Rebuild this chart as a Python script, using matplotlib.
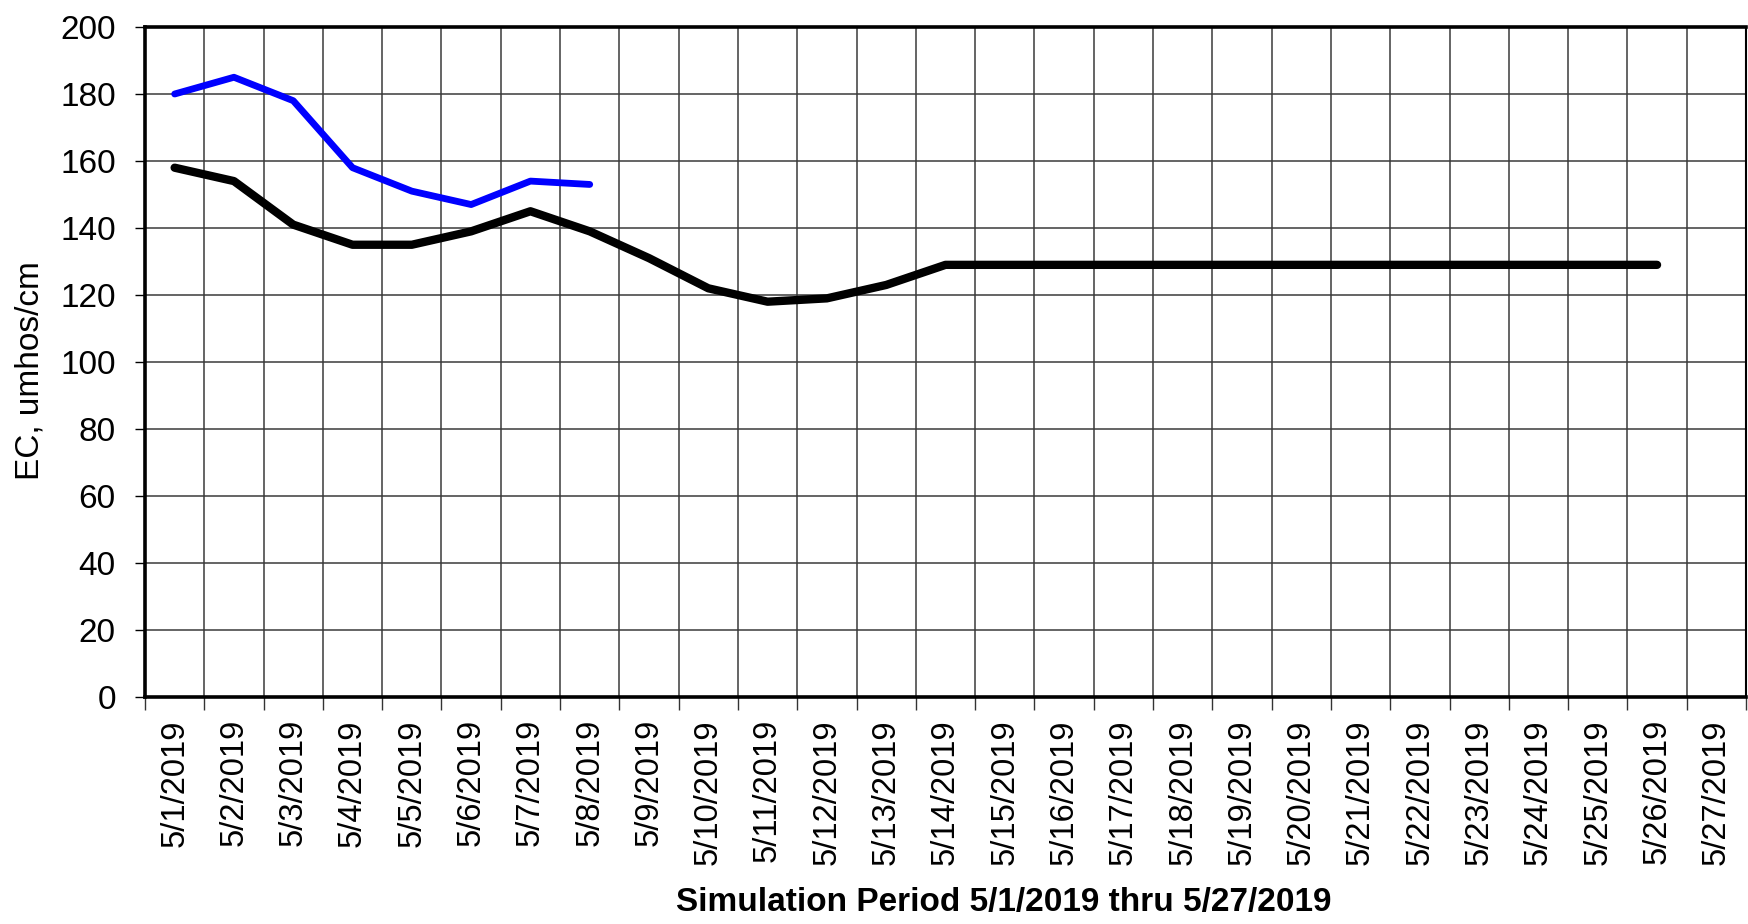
import matplotlib
matplotlib.use("Agg")
import matplotlib.pyplot as plt
import numpy as np

plt.rcParams['font.family'] = ['Liberation Sans', 'DejaVu Sans']

dates = [f"5/{d}/2019" for d in range(1, 28)]
blue_vals = [180, 185, 178, 158, 151, 147, 154, 153]
black_vals = [158, 154, 141, 135, 135, 139, 145, 139, 131, 122, 118, 119, 123, 129,
              129, 129, 129, 129, 129, 129, 129, 129, 129, 129, 129, 129]
y_ticks = list(range(0, 201, 20))
x_title = "Simulation Period 5/1/2019 thru 5/27/2019"
y_title = "EC, umhos/cm"

W, H = 1748, 924
fig = plt.figure(figsize=(W / 100, H / 100), dpi=100)
ax = fig.add_axes([145 / W, 1 - 697 / H, (1746 - 145) / W, (697 - 27) / H])

n = len(dates)
centers = np.arange(n) + 0.5
ax.plot(centers[:len(black_vals)], black_vals, color='black', lw=6.0,
        solid_capstyle='round', solid_joinstyle='round', zorder=3)
ax.plot(centers[:len(blue_vals)], blue_vals, color='#0000FF', lw=4.9,
        solid_capstyle='round', solid_joinstyle='round', zorder=4)

ax.set_xlim(0, n)
ax.set_ylim(0, 200)
ax.set_yticks(y_ticks)
ax.set_yticklabels([str(v) for v in y_ticks], fontsize=24)
ax.set_xticks(np.arange(n + 1))
ax.set_xticklabels([])
ax.set_xticks(centers, minor=True)
ax.set_xticklabels(dates, minor=True, rotation=90, fontsize=23.5)
ax.tick_params(axis='x', which='minor', length=0, pad=16)
ax.tick_params(axis='x', which='major', length=9, width=1, direction='out', color='#333333')
ax.tick_params(axis='y', length=7, width=1, direction='out', pad=14)

ax.grid(True, which='major', color='#3a3a3a', lw=1.1)
ax.set_axisbelow(True)
for s in ['left', 'bottom', 'top']:
    ax.spines[s].set_linewidth(2.6)
ax.spines['right'].set_linewidth(1.5)

fig.text(30 / W, 1 - 371 / H, y_title, fontsize=24, rotation=90,
         ha='center', va='center')
fig.text(1004 / W, 1 - 903 / H, x_title, fontsize=24, fontweight='bold',
         ha='center', va='center')

fig.savefig("out.png", dpi=100)
